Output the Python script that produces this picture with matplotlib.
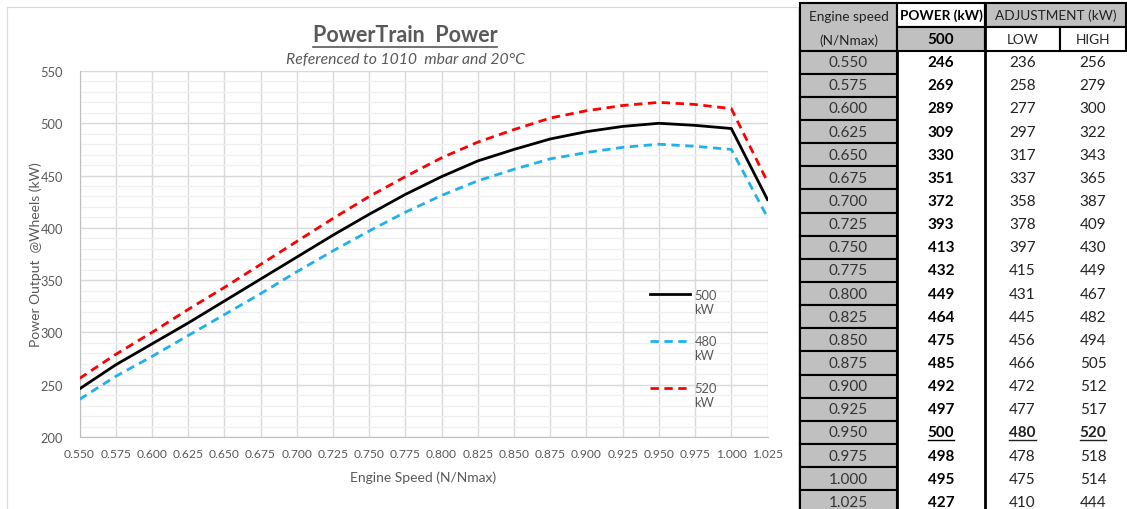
import matplotlib.pyplot as plt
from matplotlib.patches import Rectangle
from matplotlib.lines import Line2D
from matplotlib.legend_handler import HandlerLine2D
from matplotlib.ticker import MultipleLocator
import numpy as np

# data read from the sheet
speeds = [0.550, 0.575, 0.600, 0.625, 0.650, 0.675, 0.700, 0.725, 0.750, 0.775,
          0.800, 0.825, 0.850, 0.875, 0.900, 0.925, 0.950, 0.975, 1.000, 1.025]
power = [246, 269, 289, 309, 330, 351, 372, 393, 413, 432,
         449, 464, 475, 485, 492, 497, 500, 498, 495, 427]
low = [236, 258, 277, 297, 317, 337, 358, 378, 397, 415,
       431, 445, 456, 466, 472, 477, 480, 478, 475, 410]
high = [256, 279, 300, 322, 343, 365, 387, 409, 430, 449,
        467, 482, 494, 505, 512, 517, 520, 518, 514, 444]
series_labels = ['500\nkW', '480\nkW', '520\nkW']
rated = 0.950

plt.rcParams['font.family'] = ['Lato', 'DejaVu Sans']
txt = '#595959'
W, H = 1127, 510


class TopLineHandler(HandlerLine2D):
    # put the legend line next to the first text line, like Excel does
    def create_artists(self, legend, orig_handle, xdescent, ydescent,
                       width, height, fontsize, trans):
        arts = super().create_artists(legend, orig_handle, xdescent, ydescent,
                                      width, height, fontsize, trans)
        for a in arts:
            a.set_ydata(np.asarray(a.get_ydata()) + 0.6 * fontsize)
        return arts


fig = plt.figure(figsize=(W / 100, H / 100), dpi=100)

# overlay in pixel coords for the chart frame and the table
ov = fig.add_axes([0, 0, 1, 1])
ov.set_xlim(0, W)
ov.set_ylim(H, 0)
ov.axis('off')
ov.add_patch(Rectangle((7, 8), 791, 520, fill=False, ec='#d9d9d9', lw=0.8))

ax = fig.add_axes([79.5 / W, 72 / H, 688 / W, 366 / H])
ax.plot(speeds, power, color='black', lw=2, label=series_labels[0], zorder=3)
ax.plot(speeds, low, color='#1fb0ee', lw=2, ls=(0, (3, 2)), label=series_labels[1], zorder=3)
ax.plot(speeds, high, color='#ff0000', lw=2, ls=(0, (3, 2)), label=series_labels[2], zorder=3)

ax.set_xlim(0.550, 1.025)
ax.set_ylim(200, 550)
ax.set_xticks(speeds)
ax.set_xticklabels([f'{s:.3f}' for s in speeds])
ax.yaxis.set_major_locator(MultipleLocator(50))
ax.yaxis.set_minor_locator(MultipleLocator(10))
ax.grid(which='major', color='#d9d9d9', lw=1)
ax.grid(which='minor', axis='y', color='#f0f0f0', lw=1)
ax.set_axisbelow(True)
ax.tick_params(which='both', length=0, labelsize=9.3, labelcolor=txt)
ax.tick_params(axis='x', pad=8, labelsize=8.7)
ax.tick_params(axis='y', pad=12)
for side in ['top', 'right']:
    ax.spines[side].set_visible(False)
for side in ['left', 'bottom']:
    ax.spines[side].set_color('#bfbfbf')

ax.set_xlabel('Engine Speed (N/Nmax)', fontsize=10, color=txt, labelpad=8)
ax.set_ylabel('Power Output  @Wheels (kW)', fontsize=10, color=txt, labelpad=-1)

leg = ax.legend(loc='upper left', bbox_to_anchor=(0.829, 0.405), frameon=False,
                fontsize=9.3, labelcolor=txt, handlelength=3.1, handletextpad=0.35,
                labelspacing=1.6, borderpad=0, borderaxespad=0,
                handler_map={Line2D: TopLineHandler()})

title = fig.text(405 / W, 1 - 36 / H, 'PowerTrain  Power', ha='center', va='center',
                 fontsize=15.5, fontweight='bold', color=txt)
fig.text(405 / W, 1 - 60 / H, 'Referenced to 1010  mbar and 20°C', ha='center',
         va='center', fontsize=11.3, style='italic', color=txt)

# table
gray = '#c0c0c0'
x0, x1, x2, x3, x4 = 800, 897, 985, 1060, 1126
top, mid, hbot = 4, 28, 51.5
rh = 23.15


def cell(x, y, w, h, fc, lw=1.5):
    ov.add_patch(Rectangle((x, y), w, h, fc=fc, ec='black', lw=lw))


cell(x0, top, x1 - x0, hbot - top, gray)
cell(x1, top, x2 - x1, mid - top, 'white')
cell(x1, mid, x2 - x1, hbot - mid, gray)
cell(x2, top, x4 - x2, mid - top, gray)
cell(x2, mid, x3 - x2, hbot - mid, 'white')
cell(x3, mid, x4 - x3, hbot - mid, 'white')

fs = 11
hs = 9.8
ov.text((x0 + x1) / 2, 17, 'Engine speed', ha='center', va='center', fontsize=hs, color='#222222')
ov.text((x0 + x1) / 2, 41, '(N/Nmax)', ha='center', va='center', fontsize=hs, color='#222222')
ov.text((x1 + x2) / 2, 16, 'POWER (kW)', ha='center', va='center', fontsize=hs,
        fontweight='bold', color='black')
ov.text((x1 + x2) / 2, 40, '500', ha='center', va='center', fontsize=fs,
        fontweight='bold', color='black')
ov.text((x2 + x4) / 2, 16, 'ADJUSTMENT (kW)', ha='center', va='center', fontsize=hs, color='#222222')
ov.text((x2 + x3) / 2, 40, 'LOW', ha='center', va='center', fontsize=hs, color='#222222')
ov.text((x3 + x4) / 2, 40, 'HIGH', ha='center', va='center', fontsize=hs, color='#222222')

underlines = []
for i, s in enumerate(speeds):
    y = hbot + i * rh
    cell(x0, y, x1 - x0, rh, gray)
    yc = y + rh / 2
    ov.text((x0 + x1) / 2, yc, f'{s:.3f}', ha='center', va='center', fontsize=fs, color='#333333')
    t1 = ov.text((x1 + x2) / 2, yc, str(power[i]), ha='center', va='center', fontsize=fs,
                 fontweight='bold', color='black')
    is_rated = abs(s - rated) < 1e-9
    wt = 'bold' if is_rated else 'normal'
    t2 = ov.text((x2 + x3) / 2, yc, str(low[i]), ha='center', va='center', fontsize=fs,
                 fontweight=wt, color='#222222')
    t3 = ov.text((x3 + x4) / 2, yc, str(high[i]), ha='center', va='center', fontsize=fs,
                 fontweight=wt, color='#222222')
    if is_rated:
        underlines += [t1, t2, t3]

ov.plot([x1, x1], [hbot, H + 10], color='black', lw=2)
ov.plot([x2, x2], [top, H + 10], color='black', lw=2)

# underline title and rated values
fig.canvas.draw()
r = fig.canvas.get_renderer()
inv = ov.transData.inverted()
for t, off, lw in [(title, 1.5, 1.2)] + [(t, 1.0, 1.0) for t in underlines]:
    bb = t.get_window_extent(r)
    (ax_, ay_), (bx_, by_) = inv.transform([[bb.x0, bb.y0], [bb.x1, bb.y1]])
    ov.add_line(Line2D([ax_, bx_], [ay_ + off, ay_ + off], color=t.get_color(), lw=lw))

fig.savefig('out.png', dpi=100)
